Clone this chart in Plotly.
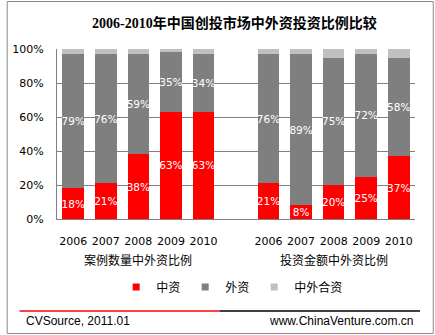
import plotly.graph_objects as go

years = ["2006", "2007", "2008", "2009", "2010"]
groups = ["案例数量中外资比例", "投资金额中外资比例"]
series = ["中资", "外资", "中外合资"]
domestic_cnt = [18, 21, 38, 63, 63]
foreign_cnt = [79, 76, 59, 35, 34]
joint_cnt = [3, 3, 3, 2, 3]
domestic_amt = [21, 8, 20, 25, 37]
foreign_amt = [76, 89, 75, 72, 58]
joint_amt = [3, 3, 5, 3, 5]
y_ticks = [0, 20, 40, 60, 80, 100]
colors = ["#FF0000", "#7F7F7F", "#C0C0C0"]

xs = list(range(5)) + list(range(6, 11))
values = [domestic_cnt + domestic_amt, foreign_cnt + foreign_amt, joint_cnt + joint_amt]
show_text = [True, True, False]

W, H = 435, 335
L, R, T, B = 52, 20, 49, 116
PW, PH = W - L - R, H - T - B


def px(x):
    return (x - L) / PW


def py(y):
    return (H - B - y) / PH


fig = go.Figure()
for name, vals, col, st in zip(series, values, colors, show_text):
    fig.add_trace(go.Bar(
        x=xs, y=vals, name=name, marker=dict(color=col, line=dict(width=0)),
        text=[f"{v}%" for v in vals] if st else None,
        textposition="inside", insidetextanchor="middle", textangle=0,
        constraintext="none",
        textfont=dict(family="DejaVu Sans", size=10.5, color="white"),
        showlegend=False, width=0.667,
    ))
    fig.add_trace(go.Scatter(
        x=[None], y=[None], mode="markers", name=name,
        marker=dict(symbol="square", size=7, color=col), showlegend=True,
    ))

annotations = [
    dict(text="<b>2006-2010年中国创投市场中外资投资比例比较</b>", x=px(232), y=py(23),
         xref="paper", yref="paper", showarrow=False, yanchor="middle",
         font=dict(family="Liberation Serif, Noto Sans CJK SC", size=14, color="black")),
    dict(text="CVSource, 2011.01", x=px(19), y=py(321), xref="paper", yref="paper",
         xanchor="left", yanchor="middle", showarrow=False,
         font=dict(family="Liberation Sans, Arial", size=12, color="black")),
    dict(text="www.ChinaVenture.com.cn", x=px(415), y=py(321), xref="paper", yref="paper",
         xanchor="right", yanchor="middle", showarrow=False,
         font=dict(family="Liberation Sans, Arial", size=12, color="black")),
]
for i, g in enumerate(groups):
    annotations.append(dict(text=g, x=2 + 6 * i, y=py(259), xref="x", yref="paper",
                            showarrow=False, yanchor="middle",
                            font=dict(family="Noto Sans CJK SC", size=12, color="black")))

shapes = [
    dict(type="rect", xref="paper", yref="paper", x0=px(1.5), x1=px(433.5), y0=py(333.5), y1=py(1.5),
         line=dict(color="#8A8A8A", width=1)),
    dict(type="line", xref="paper", yref="paper", x0=px(14), x1=px(217), y0=py(311), y1=py(311),
         line=dict(color="#FF0000", width=1.5)),
    dict(type="line", xref="paper", yref="paper", x0=px(217), x1=px(420), y0=py(311), y1=py(311),
         line=dict(color="#000000", width=1.5)),
]

fig.update_layout(
    width=W, height=H, margin=dict(l=L, r=R, t=T, b=B),
    paper_bgcolor="white", plot_bgcolor="white",
    barmode="stack", bargap=1 / 3,
    annotations=annotations, shapes=shapes,
    legend=dict(orientation="h", x=px(112), y=py(287), xanchor="left", yanchor="middle",
                traceorder="normal",
                font=dict(family="Noto Sans CJK SC", size=12, color="black"),
                itemwidth=30, tracegroupgap=0, bgcolor="rgba(0,0,0,0)"),
    xaxis=dict(range=[-0.5, 10.5], tickvals=xs, ticktext=years * 2, showgrid=False,
               showline=True, linecolor="#808080", linewidth=1, ticks="",
               ticklabelstandoff=12,
               tickfont=dict(family="DejaVu Sans", size=11, color="black"), zeroline=False),
    yaxis=dict(range=[0, 100], tickvals=y_ticks, ticktext=[f"{v}%" for v in y_ticks],
               showgrid=True, gridcolor="#808080", gridwidth=1, showline=True,
               linecolor="#808080", linewidth=1, ticks="", ticklabelstandoff=10,
               tickfont=dict(family="DejaVu Sans", size=11, color="black"), zeroline=False),
)

fig.write_html("out.html")
